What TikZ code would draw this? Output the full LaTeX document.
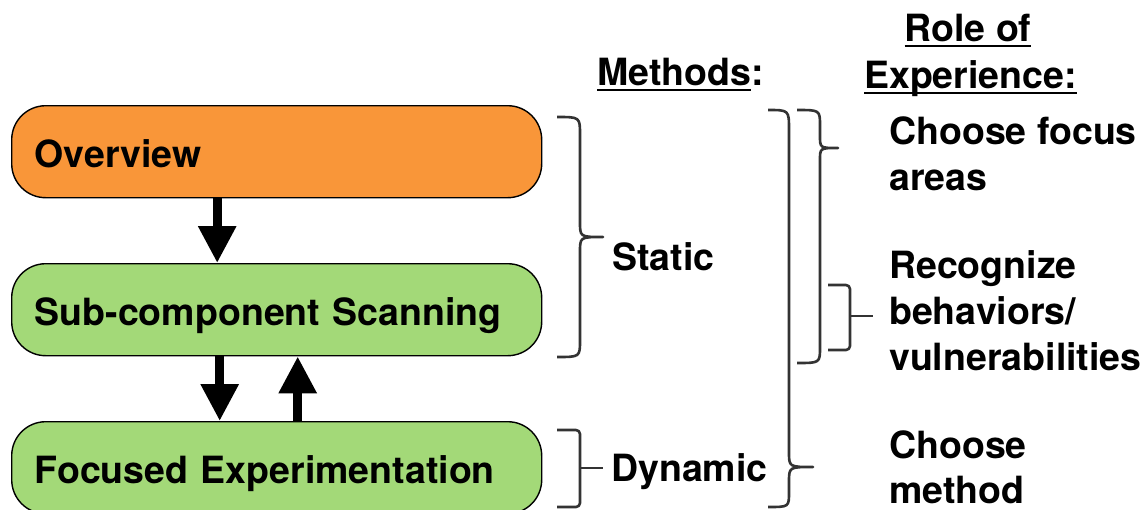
\documentclass[tikz,border=0pt]{standalone}
\usepackage{fontspec}
\setmainfont{TeX Gyre Heros}
\usetikzlibrary{arrows.meta}
\definecolor{ovorange}{HTML}{F99639}
\definecolor{scgreen}{HTML}{A3D978}
\definecolor{bracegray}{HTML}{333333}
\newcommand\myul[1]{\setbox0\hbox{#1}\rlap{\rule[-6pt]{\wd0}{2.4pt}}\box0}
\begin{document}
\begin{tikzpicture}[x=1pt,y=-1pt,
  txt/.style={font=\fontsize{37.5}{44}\selectfont\bfseries, inner sep=0pt, anchor=base west},
  stage/.style={draw=black, line width=1.4pt, rounded corners=34pt,
    minimum width=530pt, minimum height=92pt, inner xsep=23pt, inner ysep=0pt,
    text width=484pt, align=left, text height=36pt, text depth=4pt,
    font=\fontsize{37.5}{44}\selectfont\bfseries, anchor=north west},
  bigarrow/.style={line width=9pt, -{Triangle[width=36pt,length=37pt]}},
  brace/.style={draw=bracegray, line width=2.6pt, line join=round}]
\useasboundingbox (0,0) rectangle (1140,509);

% stages
\node[stage, fill=ovorange] (ov) at (11,105) {Overview};
\node[stage, fill=scgreen] (sub) at (11,263) {Sub-component Scanning};
\node[stage, fill=scgreen] (foc) at (11,421) {Focused Experimentation};

% arrows
\draw[bigarrow] ([xshift=-59.5pt]ov.south) -- ([xshift=-59.5pt]sub.north);
\draw[bigarrow] ([xshift=-57pt]sub.south) -- ([xshift=-57pt]foc.north);
\draw[bigarrow] ([xshift=21pt]foc.north) -- ([xshift=21pt]sub.south);

% headers
\node[txt] (meth) at (597,85) {\myul{Methods}:};
\node[txt, anchor=base] (role) at (968,41) {\myul{Role of}};
\node[txt] (exp) at (864,88) {\myul{Experience:}};

% method labels
\node[txt] (stat) at (612,270) {Static};
\node[txt] (dyn) at (611,481) {Dynamic};

% role labels
\node[txt] (r1a) at (889,144) {Choose focus};
\node[txt] (r1b) at (889,190) {areas};
\node[txt] (r2a) at (889,278) {Recognize};
\node[txt] (r2b) at (889,324) {behaviors/};
\node[txt] (r2c) at (889,370) {vulnerabilities};
\node[txt] (r3a) at (889,458) {Choose};
\node[txt] (r3b) at (889,503) {method};

% Static brace
\draw[brace] (557,117) .. controls (580,117) .. (580,135) -- (580,222)
  .. controls (580,237) .. (603,237) .. controls (580,237) .. (580,252)
  -- (580,340) .. controls (580,357) .. (557,357);
% Dynamic bracket
\draw[brace, rounded corners=4pt] (557,430) -- (580,430) -- (580,507) -- (557,507);
\draw[brace] (580,468) -- (603,468);
% big brace
\draw[brace] (768,110) .. controls (789,110) .. (789,130) -- (789,452)
  .. controls (789,467) .. (813,467) .. controls (789,467) .. (789,482)
  -- (789,492) .. controls (789,507) .. (768,507);
% top small brace
\draw[brace] (797,110) .. controls (820,110) .. (820,126) -- (820,136)
  .. controls (820,148) .. (838,148) .. controls (820,148) .. (820,160)
  -- (820,347) .. controls (820,363) .. (797,363);
% middle bracket
\draw[brace, rounded corners=4pt] (828,285) -- (850,285) -- (850,350) -- (828,350);
\draw[brace] (850,316) -- (873,316);
\end{tikzpicture}
\end{document}
